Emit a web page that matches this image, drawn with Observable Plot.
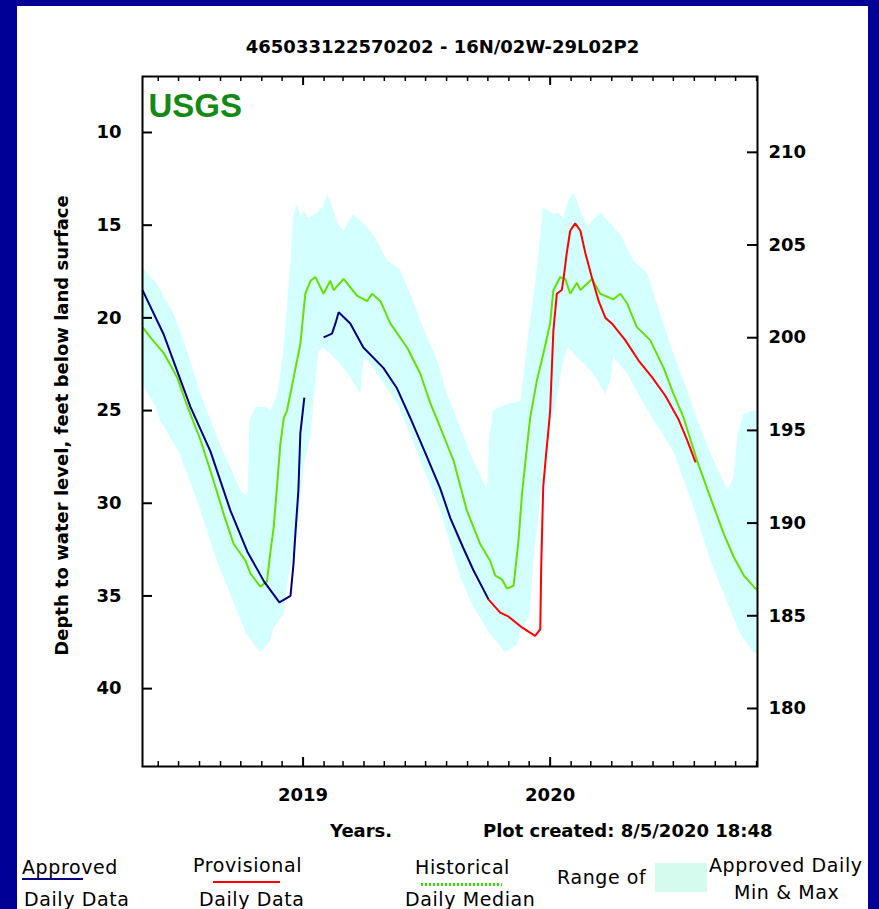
<!DOCTYPE html>
<html>
<head>
<meta charset="utf-8">
<script src="https://cdn.jsdelivr.net/npm/d3@7"></script>
<script src="https://cdn.jsdelivr.net/npm/@observablehq/plot@0.6"></script>
<style>
  html, body { margin: 0; padding: 0; }
  body { width: 879px; height: 909px; background: #000099; overflow: hidden; position: relative; }
  #panel { position: absolute; left: 17px; top: 6px; width: 851px; height: 903px; background: #fff; overflow: hidden; }
  #title { position: absolute; left: 0; top: 30px; width: 851px; text-align: center; font: bold 18px "DejaVu Sans"; line-height: 22px; color: #000; }
  #chart { position: absolute; left: 0; top: 54px; }
  .bold { position: absolute; font: bold 18px "DejaVu Sans"; line-height: 20px; white-space: nowrap; color: #000; }
  .lg { position: absolute; font: 19px "DejaVu Sans"; letter-spacing: 0.6px; line-height: 18px; white-space: nowrap; color: #000; }
  .sw { position: absolute; }
</style>
</head>
<body>
<div id="panel">
  <div id="title"></div>
  <div id="chart"></div>
  <div class="bold" style="left:313px; top:815px;">Years.</div>
  <div class="bold" style="left:466px; top:815px;">Plot created: 8/5/2020 18:48</div>

  <div class="lg" style="left:5px; top:852px;">Approved</div>
  <div class="sw" style="left:5px; top:872px; width:61px; height:2px; background:#000080;"></div>
  <div class="lg" style="left:7px; top:884px;">Daily Data</div>

  <div class="lg" style="left:176px; top:850px;">Provisional</div>
  <div class="sw" style="left:196px; top:875px; width:67px; height:2px; background:#ff0000;"></div>
  <div class="lg" style="left:182px; top:884px;">Daily Data</div>

  <div class="lg" style="left:398px; top:852px;">Historical</div>
  <div class="sw" style="left:404px; top:877px; width:81px; height:3px; background:repeating-linear-gradient(90deg,#33dd00 0 2px,transparent 2px 4px);"></div>
  <div class="lg" style="left:388px; top:884px;">Daily Median</div>

  <div class="lg" style="left:540px; top:862px;">Range of</div>
  <div class="sw" style="left:638px; top:857px; width:52px; height:29px; background:#d5fbee;"></div>
  <div class="lg" style="left:692px; top:850px;">Approved Daily</div>
  <div class="lg" style="left:717px; top:877px;">Min &amp; Max</div>
</div>
<script>
// ---------- data (decimal year, depth in feet below land surface) ----------
const title = "465033122570202 - 16N/02W-29L02P2";
const yAxisLabel = "Depth to water level, feet below land surface";
const landSurfaceAltitude = 221.07;           // right axis = altitude - depth
const depthTicks = [10, 15, 20, 25, 30, 35, 40];
const elevationTicks = [180, 185, 190, 195, 200, 205, 210];
const xDomain = [2018.350, 2020.837];
const yDomain = [6.98, 44.2];

const approvedA = [[2018.350,18.5],[2018.436,20.9],[2018.544,24.8],[2018.625,27.2],[2018.706,30.4],[2018.774,32.6],[2018.841,34.2],[2018.904,35.35],[2018.949,35.0],[2018.961,33.3],[2018.969,31.6],[2018.981,29.3],[2018.989,26.2],[2019.005,24.3]];
const approvedB = [[2019.083,21.05],[2019.117,20.85],[2019.131,20.3],[2019.144,19.7],[2019.191,20.3],[2019.244,21.6],[2019.325,22.7],[2019.380,23.8],[2019.434,25.4],[2019.495,27.3],[2019.555,29.2],[2019.596,30.8],[2019.648,32.4],[2019.689,33.6],[2019.751,35.2]];
const provisional = [[2019.751,35.2],[2019.798,35.9],[2019.830,36.1],[2019.886,36.7],[2019.939,37.15],[2019.960,36.8],[2019.964,33.3],[2019.972,29.1],[2019.984,27.3],[2019.992,26.2],[2020.000,25.0],[2020.013,20.7],[2020.027,18.7],[2020.047,18.5],[2020.054,17.9],[2020.067,16.5],[2020.081,15.3],[2020.101,14.9],[2020.122,15.3],[2020.142,16.5],[2020.168,17.8],[2020.196,19.1],[2020.223,20.0],[2020.249,20.3],[2020.303,21.2],[2020.357,22.3],[2020.411,23.2],[2020.465,24.2],[2020.519,25.5],[2020.553,26.6],[2020.587,27.8]];
const median = [[2018.350,20.5],[2018.382,21.05],[2018.436,21.9],[2018.490,23.2],[2018.524,24.5],[2018.585,26.6],[2018.638,28.8],[2018.679,30.6],[2018.719,32.2],[2018.767,33.1],[2018.787,33.8],[2018.827,34.5],[2018.854,34.2],[2018.868,32.6],[2018.881,31.3],[2018.895,29.0],[2018.908,26.8],[2018.922,25.4],[2018.935,25.0],[2018.962,23.2],[2018.989,21.4],[2019.009,18.7],[2019.030,18.0],[2019.050,17.8],[2019.083,18.7],[2019.110,18.0],[2019.124,18.5],[2019.164,17.9],[2019.218,18.8],[2019.259,19.1],[2019.279,18.7],[2019.313,19.1],[2019.353,20.3],[2019.421,21.6],[2019.474,23.0],[2019.515,24.6],[2019.555,25.9],[2019.609,27.7],[2019.663,30.4],[2019.717,32.2],[2019.757,33.1],[2019.778,33.9],[2019.805,34.1],[2019.825,34.6],[2019.852,34.45],[2019.872,32.0],[2019.886,29.5],[2019.906,27.0],[2019.919,25.4],[2019.946,23.4],[2019.973,21.9],[2020.000,20.3],[2020.013,18.5],[2020.041,17.8],[2020.061,17.9],[2020.081,18.7],[2020.108,18.1],[2020.122,18.5],[2020.169,17.9],[2020.202,18.7],[2020.256,19.0],[2020.283,18.7],[2020.310,19.2],[2020.350,20.5],[2020.404,21.2],[2020.458,22.7],[2020.498,24.1],[2020.539,25.4],[2020.593,27.7],[2020.647,29.7],[2020.701,31.65],[2020.741,32.9],[2020.782,33.9],[2020.822,34.5],[2020.837,34.7]];
// historical daily minimum (shallowest) and maximum (deepest) depth
const dailyMin = [[2018.350,17.3],[2018.410,18.2],[2018.480,19.9],[2018.540,22.2],[2018.585,24.1],[2018.666,26.9],[2018.746,29.3],[2018.775,29.6],[2018.783,25.5],[2018.807,24.8],[2018.848,24.8],[2018.868,25.0],[2018.896,24.1],[2018.920,21.8],[2018.949,16.9],[2018.961,14.4],[2018.977,13.85],[2018.989,14.6],[2019.001,14.2],[2019.021,14.6],[2019.050,14.4],[2019.078,14.0],[2019.098,13.3],[2019.110,13.7],[2019.139,14.9],[2019.163,15.3],[2019.203,14.4],[2019.244,14.9],[2019.284,15.5],[2019.341,16.9],[2019.393,17.4],[2019.434,18.7],[2019.486,20.5],[2019.543,22.3],[2019.583,24.1],[2019.624,25.5],[2019.676,27.3],[2019.745,29.3],[2019.753,26.5],[2019.769,25.0],[2019.798,24.8],[2019.838,24.6],[2019.879,24.5],[2019.899,22.3],[2019.919,20.1],[2019.947,17.3],[2019.960,15.5],[2019.972,14.0],[2019.992,14.2],[2020.012,14.4],[2020.032,14.3],[2020.053,14.6],[2020.073,13.7],[2020.093,13.2],[2020.121,14.2],[2020.150,15.1],[2020.174,14.7],[2020.202,14.3],[2020.243,14.9],[2020.283,15.5],[2020.336,16.9],[2020.392,17.6],[2020.445,19.8],[2020.497,21.9],[2020.554,23.9],[2020.594,25.5],[2020.647,27.3],[2020.716,29.3],[2020.740,28.6],[2020.756,26.3],[2020.780,25.2],[2020.821,25.0],[2020.837,25.0]];
const dailyMax = [[2018.350,23.6],[2018.403,24.8],[2018.420,25.5],[2018.500,27.3],[2018.580,30.2],[2018.650,33.1],[2018.720,35.4],[2018.770,37.05],[2018.827,38.05],[2018.868,37.4],[2018.880,36.7],[2018.920,36.0],[2018.937,34.2],[2018.961,32.6],[2018.981,31.3],[2019.001,28.1],[2019.030,26.3],[2019.042,24.5],[2019.062,21.8],[2019.082,21.6],[2019.139,22.3],[2019.191,23.2],[2019.232,24.1],[2019.244,22.1],[2019.272,22.5],[2019.325,23.5],[2019.381,24.6],[2019.434,26.3],[2019.495,28.4],[2019.555,30.4],[2019.636,34.0],[2019.689,35.6],[2019.757,37.05],[2019.818,38.05],[2019.867,37.6],[2019.875,37.05],[2019.919,36.0],[2019.931,33.1],[2019.947,31.3],[2019.972,28.2],[2020.000,25.7],[2020.020,24.8],[2020.053,22.3],[2020.073,21.6],[2020.121,22.3],[2020.174,23.0],[2020.222,24.1],[2020.243,23.4],[2020.255,22.1],[2020.311,23.0],[2020.364,24.3],[2020.417,25.5],[2020.497,27.2],[2020.578,30.2],[2020.647,33.1],[2020.716,35.4],[2020.768,37.05],[2020.821,38.05],[2020.837,38.1]];

// ---------- helpers ----------
function toDate(y) {
  const Y = Math.floor(y);
  const s = Date.UTC(Y, 0, 1), e = Date.UTC(Y + 1, 0, 1);
  return new Date(s + (y - Y) * (e - s));
}
const X = d => toDate(d[0]);
const Y = d => d[1];

document.getElementById("title").textContent = title;

const W = 851, H = 750, mL = 125, mR = 111, mT = 16, mB = 44;
const innerW = W - mL - mR, innerH = H - mT - mB;
const d0 = toDate(xDomain[0]), d1 = toDate(xDomain[1]);
const months = d3.utcMonth.range(d0, d1).filter(d => d.getUTCMonth() !== 0);
const years = d3.utcYear.range(d0, d1);
const elevDepths = elevationTicks.map(e => landSurfaceAltitude - e);
const bandPolygon = dailyMin.concat(dailyMax.slice().reverse());
const lineStyle = { strokeWidth: 2, strokeLinejoin: "miter", strokeLinecap: "butt" };

const chart = Plot.plot({
  width: W, height: H,
  marginLeft: mL, marginRight: mR, marginTop: mT, marginBottom: mB,
  style: { fontFamily: "DejaVu Sans", fontSize: "18px", fontWeight: "bold", color: "#000", background: "transparent", overflow: "visible" },
  x: { type: "utc", domain: [d0, d1] },
  y: { domain: yDomain, reverse: true },
  marks: [
    Plot.line(bandPolygon, { x: X, y: Y, fill: "#d4ffff", stroke: "none" }),
    Plot.line(median, { x: X, y: Y, stroke: "#66e000", ...lineStyle }),
    Plot.line(approvedA, { x: X, y: Y, stroke: "#000080", ...lineStyle }),
    Plot.line(approvedB, { x: X, y: Y, stroke: "#000080", ...lineStyle }),
    Plot.line(provisional, { x: X, y: Y, stroke: "#ff0000", ...lineStyle }),
    Plot.text(["USGS"], { frameAnchor: "top-left", dx: 6, dy: 17, lineAnchor: "top", textAnchor: "start", fill: "#138a13", fontSize: 33, fontWeight: "bold", fontFamily: "Liberation Sans" }),
    // inward ticks
    Plot.ruleX(months, { x: d => d, insetTop: innerH - 5, stroke: "#000", strokeWidth: 1.5 }),
    Plot.ruleX(months, { x: d => d, insetBottom: innerH - 5, stroke: "#000", strokeWidth: 1.5 }),
    Plot.ruleX(years, { x: d => d, insetTop: innerH - 9, stroke: "#000", strokeWidth: 2 }),
    Plot.ruleX(years, { x: d => d, insetBottom: innerH - 9, stroke: "#000", strokeWidth: 2 }),
    Plot.ruleY(depthTicks, { y: d => d, insetRight: innerW - 10, stroke: "#000", strokeWidth: 2 }),
    Plot.ruleY(elevDepths, { y: d => d, insetLeft: innerW - 10, stroke: "#000", strokeWidth: 2 }),
    Plot.frame({ stroke: "#000", strokeWidth: 2 }),
    Plot.axisY(depthTicks, { anchor: "left", tickSize: 0, tickPadding: 21, label: null }),
    Plot.axisY(elevDepths, { anchor: "right", tickSize: 0, tickPadding: 11, tickFormat: d => String(Math.round(landSurfaceAltitude - d)), label: null }),
    Plot.axisX(years, { anchor: "bottom", tickSize: 0, tickPadding: 22, tickFormat: d3.utcFormat("%Y"), label: null }),
    Plot.text([yAxisLabel], { frameAnchor: "left", rotate: -90, dx: -80, dy: 4, textAnchor: "middle", lineAnchor: "middle", fontSize: 18, fontWeight: "bold" })
  ]
});
document.getElementById("chart").appendChild(chart);
</script>
</body>
</html>
